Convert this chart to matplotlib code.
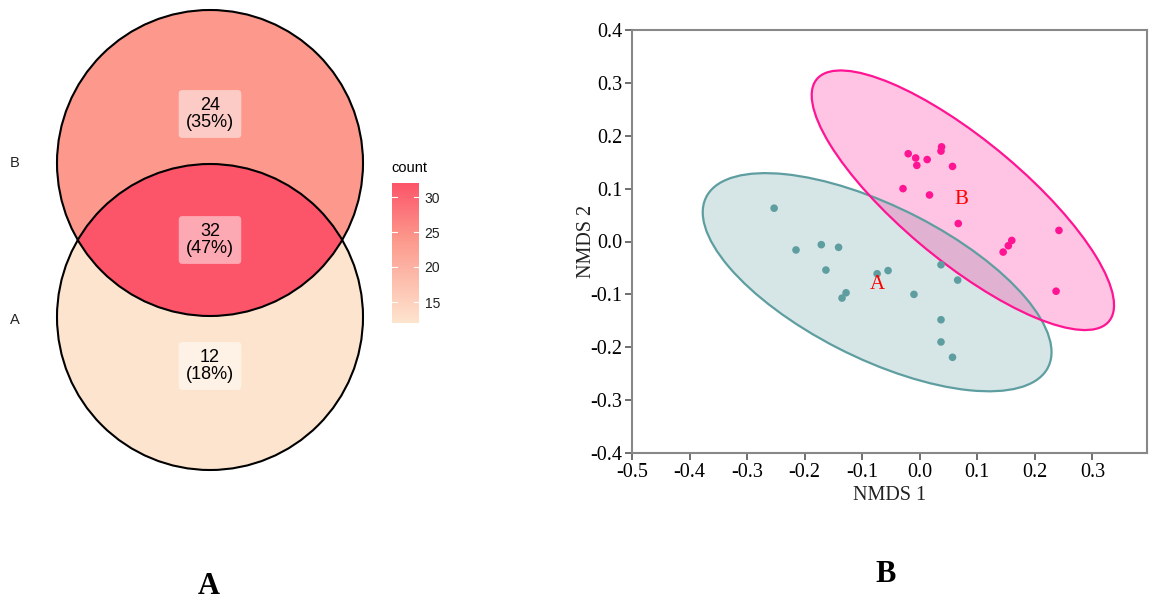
import numpy as np
import matplotlib
matplotlib.use("Agg")
import matplotlib.pyplot as plt
from matplotlib.patches import Circle, Ellipse
from matplotlib.colors import LinearSegmentedColormap, Normalize
from matplotlib.cm import ScalarMappable

plt.rcParams["axes.unicode_minus"] = False

# ------------------------------------------------------------
# Data
# ------------------------------------------------------------
# Venn counts
venn_sets = ["A", "B"]
count_b_only = 24
count_both = 32
count_a_only = 12

# NMDS scores
a_x = [-0.253, -0.215, -0.171, -0.141, -0.163, -0.074, -0.055, -0.128,
       -0.135, -0.010, 0.037, 0.066, 0.037, 0.037, 0.057]
a_y = [0.063, -0.016, -0.006, -0.011, -0.054, -0.061, -0.055, -0.097,
       -0.107, -0.100, -0.044, -0.073, -0.148, -0.190, -0.219]
b_x = [-0.020, -0.007, -0.005, 0.013, 0.038, 0.037, 0.057, -0.029,
       0.017, 0.067, 0.160, 0.154, 0.145, 0.242, 0.237]
b_y = [0.166, 0.158, 0.144, 0.155, 0.179, 0.171, 0.142, 0.100,
       0.088, 0.034, 0.002, -0.008, -0.020, 0.021, -0.094]

# group ellipses: centre, width, height, angle (data units)
ell_a = dict(xy=(-0.074, -0.077), width=0.676, height=0.284, angle=-29.2)
ell_b = dict(xy=(0.075, 0.078), width=0.684, height=0.222, angle=-42.6)
label_a_pos = (-0.074, -0.082)
label_b_pos = (0.073, 0.080)

x_ticks = [-0.5, -0.4, -0.3, -0.2, -0.1, 0.0, 0.1, 0.2, 0.3]
y_ticks = [-0.4, -0.3, -0.2, -0.1, 0.0, 0.1, 0.2, 0.3, 0.4]
cbar_ticks = [15, 20, 25, 30]

# ------------------------------------------------------------
# Figure
# ------------------------------------------------------------
W, H = 1156, 602
fig = plt.figure(figsize=(W / 100, H / 100), dpi=100)

# --------------------------
# Left: Venn diagram (pixel coords)
# --------------------------
cmap = LinearSegmentedColormap.from_list(
    "venn", [(0.0, "#FDE4CE"), (0.6, "#FC988C"), (1.0, "#FC5468")])
norm = Normalize(vmin=12, vmax=32)

ax_v = fig.add_axes([0, 0, 500 / W, 1])
ax_v.set_xlim(0, 500)
ax_v.set_ylim(H, 0)
ax_v.axis("off")

cx, r = 210, 153
cy_b, cy_a = 163, 317

circ_a = Circle((cx, cy_a), r, fc=cmap(norm(count_a_only)), ec="none", zorder=1)
circ_b = Circle((cx, cy_b), r, fc=cmap(norm(count_b_only)), ec="none", zorder=2)
ax_v.add_patch(circ_a)
ax_v.add_patch(circ_b)
inter = Circle((cx, cy_b), r, fc=cmap(norm(count_both)), ec="none", zorder=3)
ax_v.add_patch(inter)
inter.set_clip_path(circ_a)
for cy in (cy_a, cy_b):
    ax_v.add_patch(Circle((cx, cy), r, fc="none", ec="black", lw=1.5, zorder=4))

total = count_a_only + count_b_only + count_both
box = dict(boxstyle="round,pad=0.4,rounding_size=0.2", fc="white", ec="none", alpha=0.5)
for val, y in [(count_b_only, 114), (count_both, 240), (count_a_only, 366)]:
    ax_v.text(cx, y, f"{val}\n({val / total * 100:.0f}%)", ha="center", va="center",
              fontsize=13, family="Liberation Sans", linespacing=0.95,
              bbox=box, zorder=5)

ax_v.text(15, cy_b, venn_sets[1], ha="center", va="center", fontsize=10.5,
          family="Liberation Sans", color="#222222")
ax_v.text(15, cy_a + 3, venn_sets[0], ha="center", va="center", fontsize=10.5,
          family="Liberation Sans", color="#222222")

# colorbar
cax = fig.add_axes([392 / W, (H - 323) / H, 27 / W, 140 / H])
cb = fig.colorbar(ScalarMappable(norm=norm, cmap=cmap), cax=cax, ticks=cbar_ticks)
cb.outline.set_visible(False)
cax.tick_params(length=0, labelsize=10, pad=4)
for lab in cax.get_yticklabels():
    lab.set_family("Liberation Sans")
    lab.set_color("#222222")
for t in cbar_ticks:
    cax.axhline(t, xmin=0, xmax=0.2, color="white", lw=0.8)
    cax.axhline(t, xmin=0.8, xmax=1, color="white", lw=0.8)
fig.text(391 / W, 1 - 168 / H, "count", ha="left", va="center", fontsize=10.5,
         family="Liberation Sans")

# --------------------------
# Right: NMDS plot
# --------------------------
ax = fig.add_axes([632 / W, (H - 453) / H, (1147 - 632) / W, (453 - 30) / H])

teal = "#5F9EA0"
pink = "#FF1493"
ax.add_patch(Ellipse(**ell_a, fc=teal, alpha=0.25, ec="none", zorder=1))
ax.add_patch(Ellipse(**ell_b, fc=pink, alpha=0.25, ec="none", zorder=1))
ax.add_patch(Ellipse(**ell_a, fc="none", ec=teal, lw=1.6, zorder=2))
ax.add_patch(Ellipse(**ell_b, fc="none", ec=pink, lw=1.6, zorder=2))

ax.scatter(a_x, a_y, s=30, color=teal, edgecolors="none", zorder=3)
ax.scatter(b_x, b_y, s=30, color=pink, edgecolors="none", zorder=3)

ax.text(*label_a_pos, "A", color="red", fontsize=15, family="Liberation Serif",
        ha="center", va="center", zorder=4)
ax.text(*label_b_pos, "B", color="red", fontsize=15, family="Liberation Serif",
        ha="center", va="center", zorder=4)

ax.set_xlim(-0.5, 0.395)
ax.set_ylim(-0.4, 0.4)
ax.set_xticks(x_ticks)
ax.set_yticks(y_ticks)
ax.set_xticklabels([f"{v:.1f}" for v in x_ticks])
ax.set_yticklabels([f"{v:.1f}" for v in y_ticks])
for s in ax.spines.values():
    s.set_color("#888888")
    s.set_linewidth(1.5)
ax.tick_params(direction="out", length=5, width=1.2, color="#555555",
               labelsize=14.5, pad=2)
for lab in ax.get_xticklabels() + ax.get_yticklabels():
    lab.set_family("Liberation Serif")
ax.set_xlabel("NMDS 1", fontsize=14.5, family="Liberation Serif", color="#222222")
ax.set_ylabel("NMDS 2", fontsize=14.5, family="Liberation Serif", color="#222222")
ax.xaxis.set_label_coords(0.5, -0.078)
ax.yaxis.set_label_coords(-0.07, 0.5)

# panel captions
fig.text(209 / W, 1 - 586 / H, "A", ha="center", va="center", fontsize=22,
         fontweight="bold", family="Liberation Serif")
fig.text(886 / W, 1 - 574 / H, "B", ha="center", va="center", fontsize=22,
         fontweight="bold", family="Liberation Serif")

fig.savefig("out.png", dpi=100, facecolor="white")
